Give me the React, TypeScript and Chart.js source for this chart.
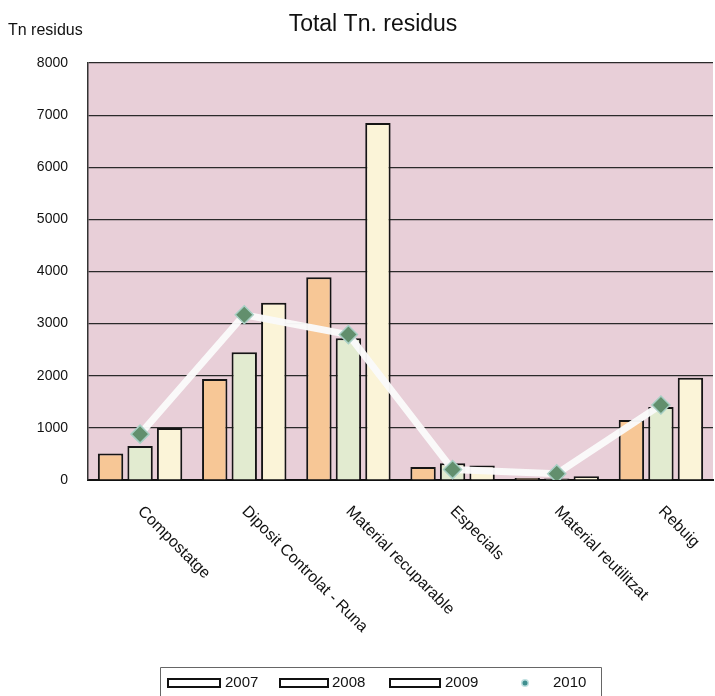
import React, { useEffect, useRef } from "react";
import { Chart, registerables } from "chart.js";

Chart.register(...registerables);

const categories = [
  "Compostatge",
  "Diposit Controlat - Runa",
  "Material recuparable",
  "Especials",
  "Material reutilitzat",
  "Rebuig",
];
const years = ["2007", "2008", "2009", "2010"];
const values2007 = [510, 1940, 3890, 250, 40, 1150];
const values2008 = [650, 2450, 2720, 320, 30, 1400];
const values2009 = [1000, 3400, 6850, 280, 70, 1960];
const values2010 = [880, 3170, 2790, 200, 120, 1440];
const yTicks = [0, 1000, 2000, 3000, 4000, 5000, 6000, 7000, 8000];

const barColors = ["#f7c796", "#e2ebd0", "#fbf4d8"];
const FONT = "'Liberation Sans', Arial, sans-serif";

export default function App() {
  const ref = useRef<HTMLCanvasElement | null>(null);

  useEffect(() => {
    document.body.style.margin = "0";
    const canvas = ref.current;
    if (!canvas) return;

    const decor = {
      id: "decor",
      beforeDraw(chart: any) {
        const { ctx, chartArea } = chart;
        ctx.save();
        ctx.fillStyle = "#ffffff";
        ctx.fillRect(0, 0, chart.width, chart.height);
        ctx.fillStyle = "#e8cfd8";
        ctx.fillRect(chartArea.left, chartArea.top, chartArea.right - chartArea.left, chartArea.bottom - chartArea.top);
        ctx.restore();
      },
      afterDraw(chart: any) {
        const { ctx, chartArea } = chart;
        const xs = chart.scales.x;
        ctx.save();
        ctx.fillStyle = "#111";
        // title
        ctx.font = `23px ${FONT}`;
        ctx.textAlign = "center";
        ctx.textBaseline = "middle";
        ctx.fillText("Total Tn. residus", 373, 25);
        // axis title
        ctx.font = `16px ${FONT}`;
        ctx.textAlign = "left";
        ctx.fillText("Tn residus", 8, 31);
        // category labels
        ctx.font = `16px ${FONT}`;
        categories.forEach((c, i) => {
          const x = xs.getPixelForValue(i);
          ctx.save();
          ctx.translate(x, chartArea.bottom + 29);
          ctx.rotate(Math.PI / 4);
          ctx.textAlign = "left";
          ctx.textBaseline = "middle";
          ctx.fillText(c, 0, 0);
          ctx.restore();
        });
        // legend
        ctx.strokeStyle = "#666";
        ctx.lineWidth = 1;
        ctx.beginPath();
        ctx.moveTo(160.5, 700);
        ctx.lineTo(160.5, 667.5);
        ctx.lineTo(601.5, 667.5);
        ctx.lineTo(601.5, 700);
        ctx.stroke();
        const rects = [
          [168, 52, 225],
          [280, 48, 332],
          [390, 50, 445],
        ];
        ctx.font = `15px ${FONT}`;
        ctx.textBaseline = "middle";
        rects.forEach(([x, w, tx], i) => {
          ctx.fillStyle = "#ffffff";
          ctx.fillRect(x, 679, w, 8);
          ctx.strokeStyle = "#111";
          ctx.lineWidth = 2;
          ctx.strokeRect(x, 679, w, 8);
          ctx.fillStyle = "#111";
          ctx.fillText(years[i], tx, 683);
        });
        ctx.fillStyle = "#bfe0e0";
        ctx.beginPath();
        ctx.arc(525, 683, 4, 0, Math.PI * 2);
        ctx.fill();
        ctx.fillStyle = "#3f8f8f";
        ctx.beginPath();
        ctx.arc(525, 683, 2.5, 0, Math.PI * 2);
        ctx.fill();
        ctx.fillStyle = "#111";
        ctx.fillText(years[3], 553, 683);
        ctx.restore();
      },
    };

    const barDs = [values2007, values2008, values2009].map((v, i) => ({
      type: "bar" as const,
      label: years[i],
      data: v,
      backgroundColor: barColors[i],
      borderColor: "#151515",
      borderWidth: 2,
      categoryPercentage: 0.85,
      barPercentage: 0.86,
      order: 2,
    }));

    const chart = new Chart(canvas, {
      type: "bar",
      data: {
        labels: categories,
        datasets: [
          {
            type: "line" as const,
            label: years[3],
            data: values2010,
            borderColor: "rgba(250,250,250,0.97)",
            borderWidth: 7,
            pointStyle: "rectRot",
            pointRadius: 9,
            pointBackgroundColor: "#628f6d",
            pointBorderColor: "#a8cfc4",
            pointBorderWidth: 1.5,
            tension: 0,
            order: 0,
          } as any,
          ...barDs,
        ],
      },
      options: {
        responsive: false,
        animation: false,
        layout: { autoPadding: false, padding: { top: 63, bottom: 216, left: 0, right: 2 } },
        plugins: {
          legend: { display: false },
          title: { display: false },
          tooltip: { enabled: false },
        },
        scales: {
          x: {
            type: "category",
            offset: true,
            grid: { display: false, drawTicks: false },
            ticks: { display: false },
            border: { color: "#111", width: 2 },
            afterFit: (s: any) => {
              s.height = 0;
            },
          },
          y: {
            min: 0,
            max: 8000,
            afterBuildTicks: (s: any) => {
              s.ticks = yTicks.map((v) => ({ value: v }));
            },
            ticks: {
              font: { size: 14, family: FONT },
              color: "#111",
              padding: 20,
              callback: (v: any) => String(v),
            },
            grid: { color: "#2a2a2a", lineWidth: 1.2, drawTicks: false },
            border: { color: "#333", width: 1.5 },
            afterFit: (s: any) => {
              s.width = 88;
            },
          },
        },
      },
      plugins: [decor],
    });

    return () => chart.destroy();
  }, []);

  return (
    <div style={{ width: 715, height: 696 }}>
      <canvas ref={ref} width={715} height={696} style={{ display: "block" }} />
    </div>
  );
}
